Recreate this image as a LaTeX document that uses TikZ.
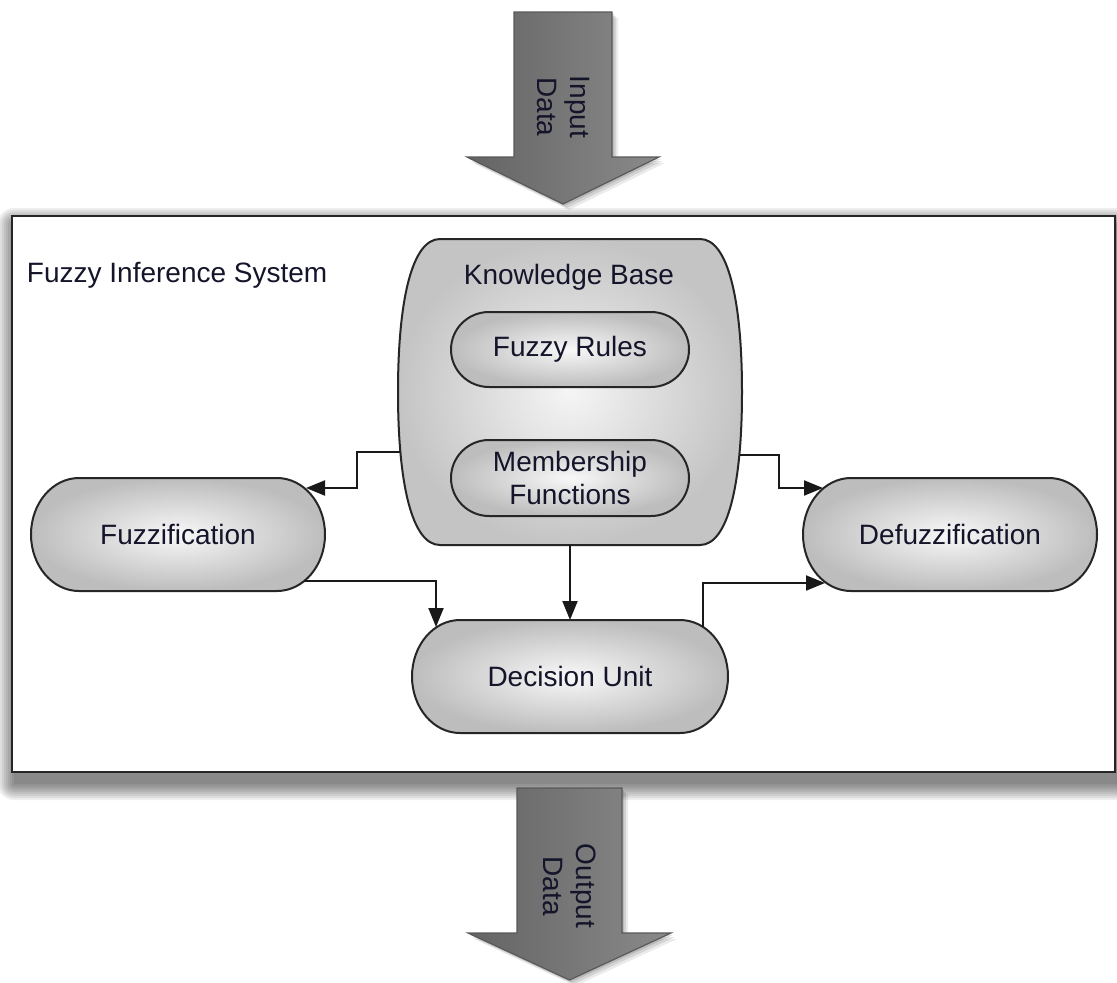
\documentclass[tikz,border=0pt]{standalone}
\usepackage{fontspec}
\setmainfont{Liberation Sans}
\usetikzlibrary{arrows.meta,calc}
\pgfdeclarelayer{back}
\pgfdeclarelayer{bg}
\pgfsetlayers{back,bg,main}
\definecolor{txt}{HTML}{14142A}
\definecolor{nodeout}{HTML}{BDBDBD}
\definecolor{nodein}{HTML}{F8F8F8}
\definecolor{kbout}{HTML}{C4C4C4}
\definecolor{kbin}{HTML}{F5F5F5}
\definecolor{arrL}{HTML}{646464}
\definecolor{arrM}{HTML}{BCBCBC}
\definecolor{arrR}{HTML}{8A8A8A}
\tikzset{
  stadfill/.style={draw=black!85, line width=2pt, inner color=nodein, outer color=nodeout},
  stadnode/.style={inner sep=0pt, outer sep=0pt, minimum width=294pt, minimum height=113pt, text=txt, align=center},
  smallnode/.style={stadnode, minimum width=238pt, minimum height=75pt},
  conn/.style={draw=black!90, line width=2pt, -{Triangle[length=19pt,width=15pt]}},
  bigarrow/.style={draw=black!65, line width=1.2pt, left color=arrL, middle color=arrM, right color=arrR},
  lbl/.style={inner sep=0pt, outer sep=0pt, text=txt},
}
\newcommand\drawstad[2]{%
  \path[stadfill] let \p1=(#1.north west), \p2=(#1.south east), \n1={(\y1-\y2)/2} in
    (\x1+#2,\y1) -- (\x2-#2,\y1)
    arc[start angle=90,end angle=-90,x radius=#2,y radius={\n1*1pt}]
    -- (\x1+#2,\y2)
    arc[start angle=270,end angle=90,x radius=#2,y radius={\n1*1pt}] -- cycle;}
\newcommand\inarrowpath{(514,12) -- (612,12) -- (612,157) -- (659,157) -- (563,204) -- (467,157) -- (514,157) -- cycle}
\newcommand\outarrowpath{(517,788) -- (622,788) -- (622,933) -- (671,933) -- (569.5,980) -- (468,933) -- (517,933) -- cycle}
\begin{document}
\begin{tikzpicture}[x=1pt,y=-1pt,font=\fontsize{28}{33}\selectfont]
\useasboundingbox (0,0) rectangle (1117,983);

% main frame with soft shadow
\begin{pgfonlayer}{back}
\foreach \k in {0,2,...,16} {
  \fill[black, opacity=0.065, rounded corners=\k pt] (14-\k,224-\k) rectangle (1117+\k,784+\k);
}
\node[draw=black!85, line width=2.5pt, fill=white, inner sep=0pt, outer sep=0pt,
      minimum width=1103pt, minimum height=556pt] (fis) at (563.5,494) {};
\end{pgfonlayer}
\node[lbl, anchor=west] (fist) at (27,275) {Fuzzy Inference System};

% input / output arrows with soft shadows
\foreach \s/\o in {6/0.08,4/0.10,2/0.12} {
  \begin{scope}[shift={(\s,\s)}]
    \fill[black, opacity=\o] \inarrowpath;
    \fill[black, opacity=\o] \outarrowpath;
  \end{scope}
}
\shadedraw[bigarrow] \inarrowpath;
\node[lbl, rotate=-90, align=center] (inp) at (563,107) {Input\\Data};
\shadedraw[bigarrow] \outarrowpath;
\node[lbl, rotate=-90, align=center] (outp) at (569.5,886) {Output\\Data};

% nodes
\node[inner sep=0pt, outer sep=0pt, minimum width=344pt, minimum height=306pt] (kb) at (570,392) {};
\node[lbl] (kbt) at (569,277) {Knowledge Base};
\node[smallnode] (fr) at (570,349.5) {Fuzzy Rules};
\node[smallnode, minimum height=76pt] (mf) at (570,478) {Membership\\Functions};
\node[stadnode] (fz) at (178,534.5) {Fuzzification};
\node[stadnode] (dfz) at (950,534.5) {Defuzzification};
\node[stadnode, minimum width=316pt] (du) at (570,676.5) {Decision Unit};

\begin{pgfonlayer}{bg}
\path[draw=black!85, line width=2pt, inner color=kbin, outer color=kbout]
  (440,239) -- (700,239)
  .. controls (728,239) and (742,300) .. (742,392)
  .. controls (742,484) and (728,545) .. (700,545)
  -- (440,545)
  .. controls (412,545) and (398,484) .. (398,392)
  .. controls (398,300) and (412,239) .. (440,239) -- cycle;
\drawstad{fr}{38pt}
\drawstad{mf}{38pt}
\drawstad{fz}{48pt}
\drawstad{dfz}{48pt}
\drawstad{du}{48pt}
\end{pgfonlayer}

% connectors
\draw[conn] ($(kb.west)+(2,60)$) -- ++(-43,0) |- ($(fz.east)+(-19,-46.5)$);
\draw[conn] ($(fz.east)+(-21,46.5)$) -| ($(du.north west)+(24,7)$);
\draw[conn] (kb.south) -- (du.north);
\draw[conn] ($(kb.east)+(-2,63)$) -- ++(39,0) |- ($(dfz.west)+(20,-46.5)$);
\draw[conn] ($(du.north east)+(-25,7)$) |- ($(dfz.west)+(22,48.5)$);
\end{tikzpicture}
\end{document}
